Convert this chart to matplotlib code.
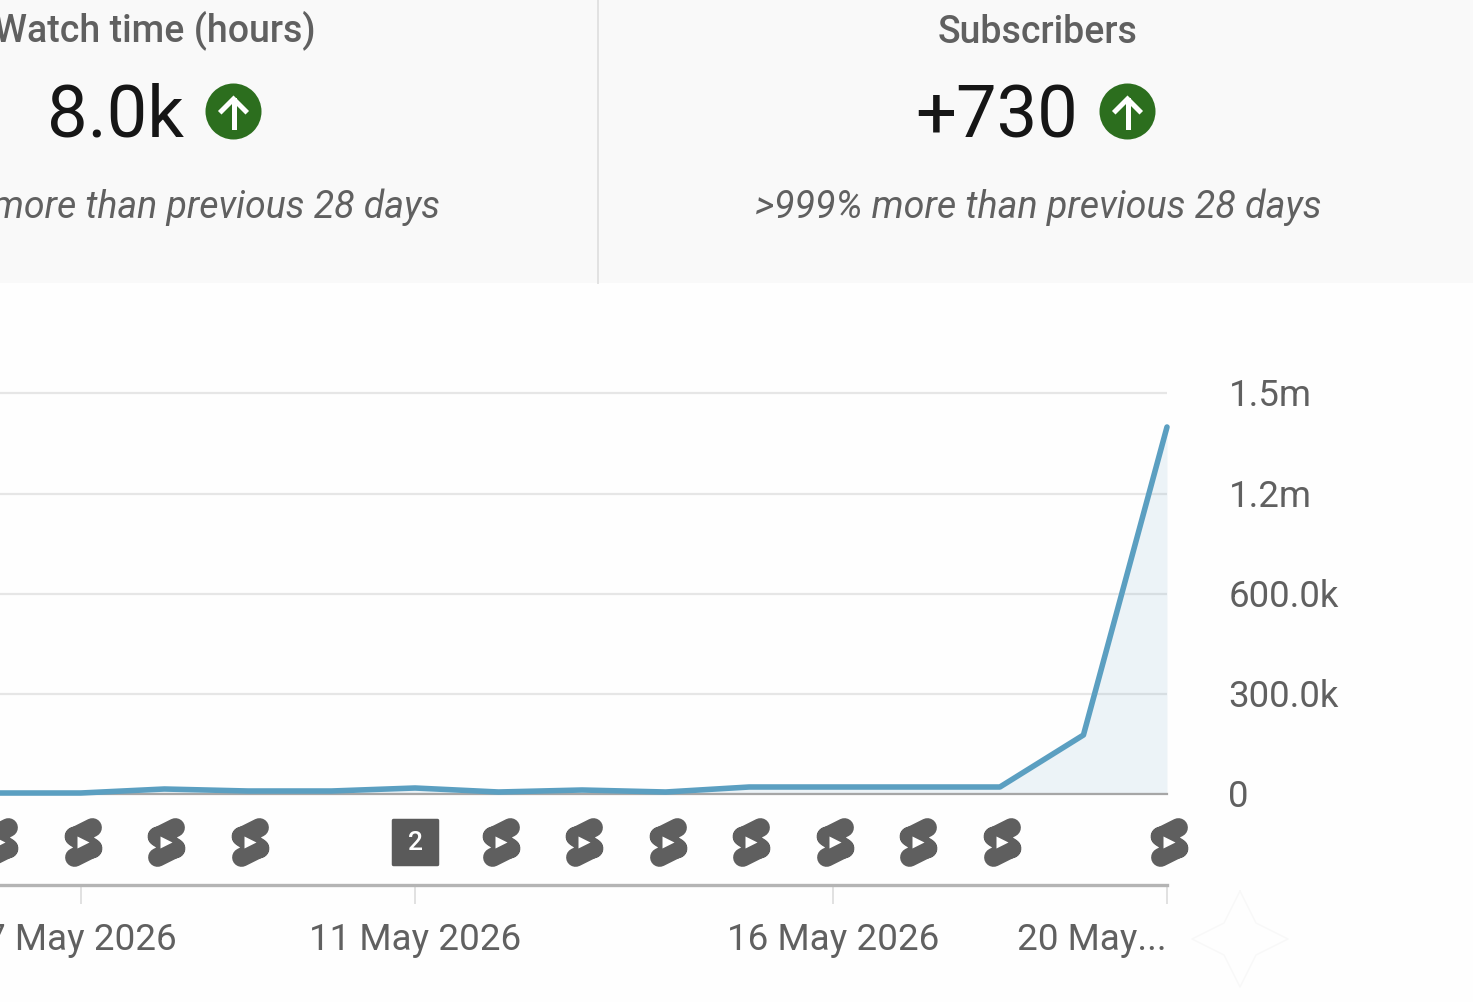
import numpy as np
import matplotlib
matplotlib.use('Agg')
import matplotlib.pyplot as plt
from matplotlib.markers import MarkerStyle
from matplotlib.lines import Line2D
from matplotlib.patches import Circle, Rectangle
from matplotlib.path import Path
from matplotlib.transforms import Affine2D, ScaledTranslation

plt.rcParams['font.family'] = ['Roboto', 'DejaVu Sans']

W, H = 1473, 1003

days = [6, 7, 8, 9, 10, 11, 12, 13, 14, 15, 16, 17, 18, 19, 20]
views = [3000, 3000, 15000, 9000, 9000, 18000, 6000, 12000, 6000, 21000, 21000,
         21000, 21000, 177000, 1101000]

y_ticks = [0, 300000, 600000, 900000, 1203000]
y_labels = ['0', '300.0k', '600.0k', '1.2m', '1.5m']
x_ticks = [7, 11, 16, 20]
x_labels = ['7 May 2026', '11 May 2026', '16 May 2026', '20 May...']
shorts_days = [6, 7, 8, 9, 12, 13, 14, 15, 16, 17, 18, 20]
multi_day = 11
multi_count = '2'

GREY = '#606060'
LINE = '#5b9fc1'

fig = plt.figure(figsize=(W / 100, H / 100), dpi=100, facecolor='#fefefe')
# pixel coordinates of the picture, origin top left
px = Affine2D().scale(1 / W, -1 / H).translate(0, 1) + fig.transFigure


def axes_px(left, top, right, bottom):
    return fig.add_axes([left / W, 1 - bottom / H, (right - left) / W, (bottom - top) / H])


def stadium(x0, y0, x1, y1, r):
    # rounded stroke as a polygon
    a = np.arctan2(y1 - y0, x1 - x0)
    t1 = np.linspace(a + np.pi / 2, a + 3 * np.pi / 2, 12)
    t2 = np.linspace(a - np.pi / 2, a + np.pi / 2, 12)
    pts = np.r_[np.c_[x0 + r * np.cos(t1), y0 + r * np.sin(t1)],
                np.c_[x1 + r * np.cos(t2), y1 + r * np.sin(t2)]]
    return Path(np.r_[pts, pts[:1]], closed=True)


shorts_icon = Path.make_compound_path(
    stadium(-9, 6, 9, 15, 9.5),
    stadium(-9, -15, 9, -6, 9.5),
    stadium(-9, 6, 9, -6, 10),
)

# header cards
fig.add_artist(Rectangle((0, 0), W, 284, transform=px, fc='#f9f9f9', ec='none'))
fig.add_artist(Line2D([598, 598], [0, 284], transform=px, color='#e2e2e2', lw=1.4))
fig.text(316 / W, 1 - 30.5 / H, 'Watch time (hours)', ha='right', va='center', fontsize=27,
         fontweight='medium', color=GREY)
fig.text(1037.5 / W, 1 - 32.5 / H, 'Subscribers', ha='center', va='center', fontsize=27,
         fontweight='medium', color=GREY)
fig.text(184 / W, 1 - 117 / H, '8.0k', ha='right', va='center', fontsize=52, color='#161616')
fig.text(1078 / W, 1 - 118 / H, '+730', ha='right', va='center', fontsize=52, color='#161616')
fig.text(439.5 / W, 1 - 207 / H, 'more than previous 28 days', ha='right', va='center',
         fontsize=27, style='italic', color=GREY)
fig.text(1038 / W, 1 - 207 / H, '>999% more than previous 28 days', ha='center', va='center',
         fontsize=27.1, style='italic', color=GREY)

for cx in [233.5, 1127.5]:
    fig.add_artist(Circle((cx, 112.5), 28, transform=px, fc='#2c6e1e', ec='none'))
    fig.add_artist(Line2D([cx, cx], [101, 128], transform=px, color='white', lw=3.6))
    fig.add_artist(Line2D([cx - 12, cx, cx + 12], [112, 100, 112], transform=px, color='white',
                          lw=3.6, solid_joinstyle='miter'))

# line chart
ax = axes_px(0, 381, 1167, 795)
ax.patch.set_alpha(0)
ax.plot(days, views, color=LINE, lw=4, solid_joinstyle='round', solid_capstyle='round',
        clip_on=False, zorder=3)
ax.fill_between(days, views, 0, color='#5f9fc4', alpha=0.11, lw=0, zorder=2)
ax.set_xlim(6.033, 20)
ax.set_ylim(0, 1242000)
ax.set_yticks(y_ticks, y_labels)
ax.yaxis.tick_right()
ax.tick_params(axis='y', length=0, pad=45, labelsize=26.4, labelcolor=GREY)
ax.tick_params(axis='x', bottom=False, labelbottom=False)
label_shift = ScaledTranslation(-1 / 100, 2 / 100, fig.dpi_scale_trans)
for label in ax.get_yticklabels():
    label.set_transform(label.get_transform() + label_shift)
ax.grid(axis='y', color='#e6e6e6', lw=1.6, zorder=1)
ax.set_axisbelow(True)
for side in ['top', 'right', 'left']:
    ax.spines[side].set_visible(False)
ax.spines['bottom'].set_color('#a6a6a6')
ax.spines['bottom'].set_linewidth(1.6)

# content strip under the chart
strip = axes_px(0, 795, 1167, 886)
strip.patch.set_alpha(0)
strip.set_xlim(6.033, 20)
strip.set_ylim(0, 1)
strip.set_yticks([])
for side in ['top', 'right', 'left']:
    strip.spines[side].set_visible(False)
strip.spines['bottom'].set_color('#b4b4b4')
strip.spines['bottom'].set_linewidth(2.4)
icon_tr = strip.transData + ScaledTranslation(2 / 100, 0, fig.dpi_scale_trans)
strip.plot(shorts_days, [0.47] * len(shorts_days), ls='none', marker=shorts_icon, ms=35,
           mfc='#5f5f5f', mec='none', clip_on=False, transform=icon_tr)
strip.plot(shorts_days, [0.47] * len(shorts_days), ls='none', marker='>', ms=8,
           mfc='white', mec='none', clip_on=False, transform=icon_tr)
strip.plot([multi_day], [0.47], ls='none', marker=MarkerStyle('s', joinstyle='round'), ms=32,
           mfc='#5a5a5a', mec='#5a5a5a', mew=2.5)
strip.text(multi_day, 0.47, multi_count, ha='center', va='center', color='white',
           fontsize=19, fontweight='medium')
strip.set_xticks(x_ticks, x_labels)
strip.tick_params(axis='x', length=14, width=1.2, color='#dcdcdc', pad=12, labelsize=26.6,
                  labelcolor=GREY)
strip.get_xticklabels()[-1].set_ha('right')

# faint sparkle bottom right
sparkle = [1240, 1256, 1288, 1256, 1240, 1224, 1192, 1224, 1240]
sparkle_y = [892, 924, 940, 956, 988, 956, 940, 924, 892]
fig.add_artist(Line2D(sparkle, sparkle_y, transform=px, color='#f8f8f8', lw=1))

fig.savefig('out.png', dpi=100, facecolor=fig.get_facecolor())
